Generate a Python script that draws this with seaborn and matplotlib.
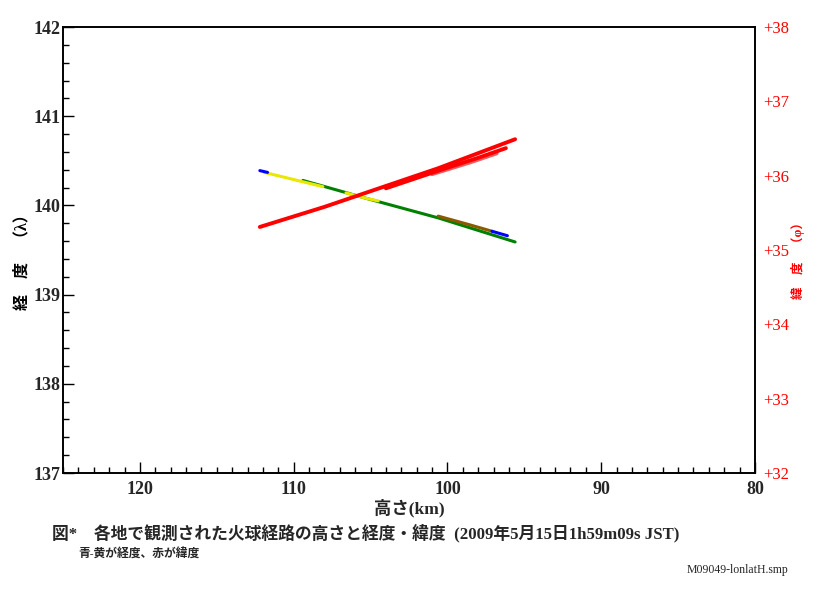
import numpy as np
import pandas as pd
import matplotlib
matplotlib.use('Agg')
import matplotlib.pyplot as plt
import seaborn as sns
from matplotlib.ticker import MultipleLocator, FuncFormatter

sns.set_theme(style='white')
plt.rcParams['font.family'] = ['Liberation Serif', 'Noto Sans CJK JP', 'DejaVu Sans']

# 経度 (left axis) segments: height(km), longitude
lon_blue1_h = [112.2, 111.7]
lon_blue1_v = [140.39, 140.37]
lon_yellow_h = [111.9, 108.1]
lon_yellow_v = [140.37, 140.21]
lon_yellow2_h = [106.6, 105.3, 104.5]
lon_yellow2_v = [140.14, 140.08, 140.05]
lon_green_h = [109.4, 105.3, 100.6, 95.6]
lon_green_v = [140.28, 140.08, 139.86, 139.59]
lon_brown_h = [100.6, 98.5, 97.1]
lon_brown_v = [139.88, 139.78, 139.71]
lon_blue2_h = [97.1, 96.1]
lon_blue2_v = [139.71, 139.66]

# 緯度 (right axis) segments: height(km), latitude
lat_red_h = [112.2, 108.0, 105.3, 100.6, 95.6]
lat_red_v = [35.31, 35.58, 35.77, 36.10, 36.49]
lat_red2_h = [104.0, 100.4, 98.0, 96.2]
lat_red2_v = [35.83, 36.08, 36.24, 36.37]
lat_pink_h = [101.0, 98.5, 96.8]
lat_pink_v = [36.02, 36.18, 36.30]

lon_segments = [
    (lon_green_h, lon_green_v, '#008000'),
    (lon_yellow_h, lon_yellow_v, '#e8e800'),
    (lon_yellow2_h, lon_yellow2_v, '#e8e800'),
    (lon_brown_h, lon_brown_v, '#8a5a00'),
    (lon_blue1_h, lon_blue1_v, '#0000ff'),
    (lon_blue2_h, lon_blue2_v, '#0000ff'),
]
lat_segments = [
    (lat_pink_h, lat_pink_v, '#f06060'),
    (lat_red2_h, lat_red2_v, '#ff0000'),
    (lat_red_h, lat_red_v, '#ff0000'),
]

fig = plt.figure(figsize=(8.18, 5.96), dpi=100)
ax1 = fig.add_axes([63/818, 1-473/596, (755-63)/818, (473-27)/596])
ax2 = ax1.twinx()

for h, v, c in lon_segments:
    sns.lineplot(x=h, y=v, color=c, linewidth=2.2, sort=False, estimator=None, ax=ax1)
for h, v, c in lat_segments:
    sns.lineplot(x=h, y=v, color=c, linewidth=2.8, sort=False, estimator=None, ax=ax2)

ax1.set_xlim(125, 80)
ax1.set_ylim(137, 142)
ax2.set_ylim(32, 38)

for sp in ax1.spines.values():
    sp.set_color('black')
    sp.set_linewidth(1.2)
for sp in ax2.spines.values():
    sp.set_color('black')
    sp.set_linewidth(1.2)

ax1.xaxis.set_major_locator(MultipleLocator(10))
ax1.xaxis.set_minor_locator(MultipleLocator(1))
ax1.yaxis.set_major_locator(MultipleLocator(1))
ax1.yaxis.set_minor_locator(MultipleLocator(0.2))
ax1.tick_params(axis='both', which='major', direction='in', length=8, width=1,
                color='black', labelsize=13, bottom=True, left=True)
ax1.tick_params(axis='x', which='major', pad=6)
ax1.tick_params(axis='y', which='major', pad=2)
ax1.tick_params(axis='both', which='minor', direction='in', length=4, width=1,
                color='black', bottom=True, left=True)
for lab in ax1.get_xticklabels() + ax1.get_yticklabels():
    lab.set_fontweight('bold')

ax2.yaxis.set_major_locator(MultipleLocator(1))
ax2.yaxis.set_major_formatter(FuncFormatter(lambda v, p: f'+{v:.0f}'))
ax2.tick_params(axis='y', which='both', length=0, labelsize=12, labelcolor='red', pad=6)
ax1.grid(False)
ax2.grid(False)

ax1.set_xlabel('')
ax1.set_ylabel('')
ax2.set_ylabel('')

fig.text(22/818, 1-258/596, '経　度　（λ）', rotation=90, ha='center', va='center',
         fontsize=11.5, fontweight='bold', color='black')
fig.text(798/818, 1-258/596, '緯　度　（φ）', rotation=90, ha='center', va='center',
         fontsize=9, fontweight='bold', color='red')
fig.text(409/818, 1-508/596, '高さ(km)', ha='center', va='center', fontsize=12.5,
         fontweight='bold')
fig.text(52/818, 1-533/596, '図*　各地で観測された火球経路の高さと経度・緯度  (2009年5月15日1h59m09s JST)',
         ha='left', va='center', fontsize=12.1, fontweight='bold')
fig.text(78/818, 1-554/596, '青-黄が経度、赤が緯度', ha='left', va='center',
         fontsize=8.5, fontweight='bold')
fig.text(788/818, 1-570/596, 'M09049-lonlatH.smp', ha='right', va='center', fontsize=8.5)

plt.savefig('out.png', dpi=100)
plt.close()
